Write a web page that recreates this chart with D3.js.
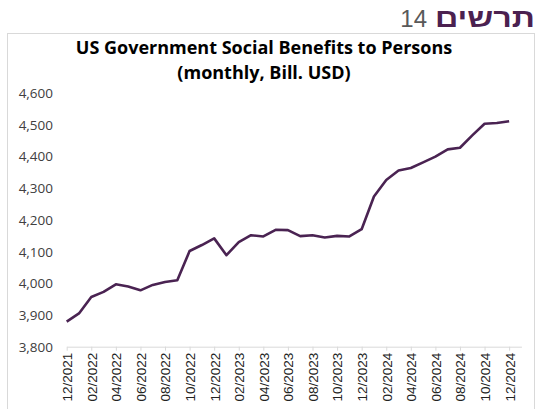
<!DOCTYPE html>
<html>
<head>
<meta charset="utf-8">
<script src="https://cdn.jsdelivr.net/npm/d3@7/dist/d3.min.js"></script>
<style>
  html, body { margin: 0; padding: 0; background: #fff; }
  svg { display: block; }
</style>
</head>
<body>
<svg id="chart" width="538" height="409"></svg>
<script>
// Monthly categories, 12/2021 – 12/2024
const months = [
  "12/2021","01/2022","02/2022","03/2022","04/2022","05/2022","06/2022","07/2022",
  "08/2022","09/2022","10/2022","11/2022","12/2022","01/2023","02/2023","03/2023",
  "04/2023","05/2023","06/2023","07/2023","08/2023","09/2023","10/2023","11/2023",
  "12/2023","01/2024","02/2024","03/2024","04/2024","05/2024","06/2024","07/2024",
  "08/2024","09/2024","10/2024","11/2024","12/2024"
];

// Social benefits to persons, billions of USD
const benefits = [
  3879, 3905, 3957, 3973, 3997, 3990, 3978, 3995,
  4004, 4010, 4102, 4121, 4142, 4089, 4130, 4152,
  4148, 4169, 4168, 4149, 4152, 4145, 4150, 4148,
  4171, 4274, 4326, 4356, 4364, 4382, 4400, 4423,
  4428, 4467, 4504, 4506, 4512
];

const yTicks = [3800, 3900, 4000, 4100, 4200, 4300, 4400, 4500, 4600];
const titleLines = ["US Government Social Benefits to Persons", "(monthly, Bill. USD)"];
const chartNumber = "14";
const chartWord = "תרשים";

const svg = d3.select("#chart");

// Header: chart word and number
svg.append("text")
  .attr("x", 535).attr("y", 27)
  .attr("text-anchor", "end")
  .attr("font-family", "'Liberation Sans', Arial, 'DejaVu Sans', sans-serif")
  .attr("font-weight", 700)
  .attr("font-size", 26)
  .attr("fill", "#4b2150")
  .attr("textLength", 100)
  .attr("lengthAdjust", "spacingAndGlyphs")
  .text(chartWord);

svg.append("text")
  .attr("x", 427).attr("y", 27)
  .attr("text-anchor", "end")
  .attr("font-family", "'Liberation Sans', Arial, sans-serif")
  .attr("font-size", 24)
  .attr("fill", "#595959")
  .text(chartNumber);

// Chart frame
svg.append("rect")
  .attr("x", 7.5).attr("y", 33.5)
  .attr("width", 527).attr("height", 380)
  .attr("fill", "none")
  .attr("stroke", "#d9d9d9")
  .attr("stroke-width", 1);

// Title
svg.append("g").selectAll("text")
  .data(titleLines)
  .join("text")
  .attr("x", 264)
  .attr("y", (d, i) => 54 + i * 25)
  .attr("text-anchor", "middle")
  .attr("font-family", "'Open Sans', sans-serif")
  .attr("font-weight", 700)
  .attr("font-size", 18)
  .attr("fill", "#000")
  .text(d => d);

// Scales
const x = d3.scaleLinear().domain([0, months.length]).range([66.7, 66.7 + 12.29 * months.length]);
const y = d3.scaleLinear().domain([3800, 4600]).range([346.7, 93.3]);

// Y axis (labels only)
const yAxis = d3.axisLeft(y)
  .tickValues(yTicks)
  .tickSize(0)
  .tickPadding(0)
  .tickFormat(d3.format(","));

svg.append("g")
  .attr("transform", "translate(53,0)")
  .call(yAxis)
  .call(g => g.select(".domain").remove())
  .call(g => g.selectAll("text")
    .attr("font-family", "'Open Sans', sans-serif")
    .attr("font-size", 13.5)
    .attr("fill", "#404040"));

// X axis: category line with ticks every two months
const tickIdx = d3.range(0, months.length, 2);
const xAxis = d3.axisBottom(x)
  .tickValues(tickIdx)
  .tickSizeInner(4)
  .tickSizeOuter(0)
  .tickFormat(i => months[i]);

const gx = svg.append("g")
  .attr("transform", `translate(0,${y(3800)})`)
  .call(xAxis);
gx.select(".domain").attr("stroke", "#d9d9d9");
gx.selectAll(".tick line").attr("stroke", "#d9d9d9");
gx.selectAll(".tick text")
  .attr("font-family", "'Liberation Sans', Arial, sans-serif")
  .attr("font-size", 13.5)
  .attr("fill", "#222")
  .attr("transform", "rotate(-90)")
  .attr("text-anchor", "end")
  .attr("x", -6)
  .attr("y", 0)
  .attr("dy", "0.36em");

// Series line
const line = d3.line()
  .x((d, i) => x(i))
  .y(d => y(d));

svg.append("path")
  .datum(benefits)
  .attr("d", line)
  .attr("fill", "none")
  .attr("stroke", "#4a2352")
  .attr("stroke-width", 2.6)
  .attr("stroke-linejoin", "round");
</script>
</body>
</html>
